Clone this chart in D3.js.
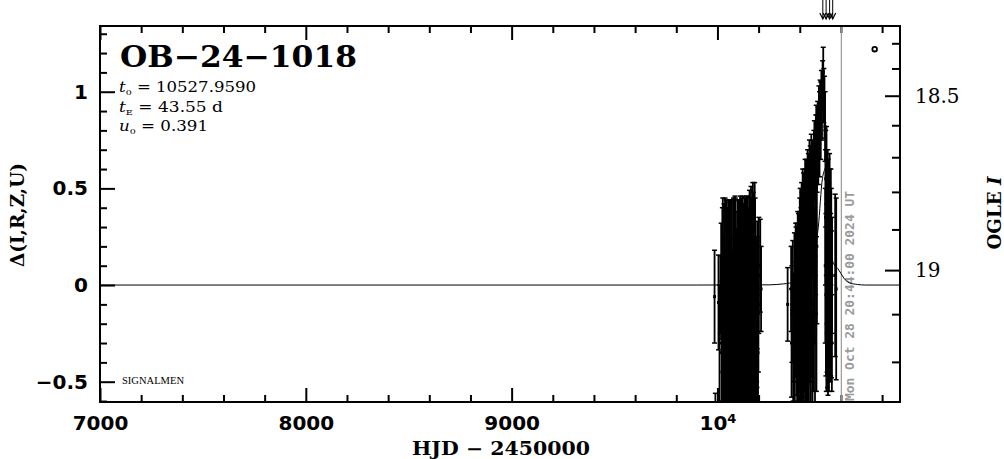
<!DOCTYPE html>
<html><head><meta charset="utf-8">
<script src="https://cdn.jsdelivr.net/npm/d3@7"></script>
<style>body{margin:0;background:#fff}svg{display:block}</style>
</head><body>
<svg id="c" width="1004" height="459"></svg>
<script>
// ---------------- data ----------------
const eventName = "OB\u221224\u22121018";
const paramNames = [["t","0"],["t","E"],["u","0"]];
const paramValues = ["10527.9590", "43.55 d", "0.391"];
const xMajorTicks = [7000, 8000, 9000, 10000];
const xMinorTicks = [7200,7400,7600,7800,8200,8400,8600,8800,9200,9400,9600,9800,10200,10400,10600,10800];
const yMajorTicks = [-0.5, 0, 0.5, 1];
const yMinorTicks = [-0.6,-0.4,-0.3,-0.2,-0.1,0.1,0.2,0.3,0.4,0.6,0.7,0.8,0.9,1.1,1.2,1.3];
const magMajorTicks = [18.5, 19];
const magMinorTicks = [18.3,18.4,18.6,18.7,18.8,18.9,19.1,19.2];
// season 1 : [HJD-2450000, delta, error]
const season1 = [
[9986,-0.06,0.24],[9990,-0.78,0.22],[10005,-0.09,0.245],[10010,-0.30,0.30],[10014,-0.05,0.20],
[10018,0.02,0.30],[10022,-0.45,0.30],[10026,0.12,0.33],[10030,-0.20,0.30],[10034,-0.05,0.30],
[10037,0.10,0.35],[10040,-0.15,0.32],[10043,-0.40,0.35],[10046,0.05,0.38],[10049,-0.30,0.30],
[10052,-0.60,0.30],[10055,0.08,0.36],[10058,-0.20,0.35],[10061,-0.45,0.32],[10064,0.12,0.32],
[10067,-0.10,0.34],[10070,-0.55,0.35],[10073,-0.30,0.35],[10076,0.05,0.38],[10079,-0.25,0.33],
[10082,-0.62,0.35],[10085,0.10,0.36],[10088,-0.35,0.30],[10091,-0.05,0.34],[10094,-0.50,0.33],
[10097,0.14,0.30],[10100,-0.22,0.35],[10103,-0.70,0.35],[10106,0.05,0.38],[10109,-0.40,0.30],
[10112,-0.12,0.36],[10115,-0.58,0.32],[10118,0.12,0.33],[10121,-0.28,0.34],[10124,-0.48,0.30],
[10127,0.02,0.40],[10130,-0.18,0.35],[10133,-0.65,0.33],[10136,0.15,0.30],[10139,-0.35,0.35],
[10142,-0.08,0.38],[10145,-0.52,0.35],[10148,0.10,0.36],[10151,-0.25,0.32],[10154,-0.60,0.35],
[10157,0.05,0.40],[10160,-0.40,0.35],[10163,0.18,0.33],[10166,-0.15,0.36],[10169,-0.55,0.35],
[10172,0.13,0.40],[10175,-0.30,0.33],[10178,-0.70,0.35],[10181,0.08,0.45],[10184,-0.45,0.30],
[10187,-0.10,0.35],[10190,-0.62,0.35],[10193,0.00,0.33],[10197,-0.35,0.30],[10201,0.05,0.30],
[10208,0.10,0.24],[10212,-0.02,0.22],
[10020,-0.35,0.30],[10024,0.05,0.35],[10028,-0.55,0.30],[10032,0.08,0.34],[10035,-0.38,0.32],
[10039,-0.65,0.30],[10042,0.10,0.34],[10045,-0.25,0.35],[10048,-0.50,0.30],[10051,0.02,0.38],
[10054,-0.35,0.32],[10057,-0.70,0.32],[10060,0.06,0.38],[10063,-0.30,0.35],[10066,-0.58,0.30],
[10069,0.10,0.34],[10072,-0.18,0.36],[10075,-0.45,0.33],[10078,0.08,0.37],[10081,-0.30,0.33],
[10084,-0.58,0.32],[10087,0.12,0.33],[10090,-0.20,0.36],[10093,-0.68,0.33],[10096,-0.02,0.40],
[10099,-0.42,0.32],[10102,0.10,0.34],[10105,-0.25,0.35],[10108,-0.62,0.35],[10111,0.08,0.38],
[10114,-0.32,0.34],[10117,-0.05,0.40],[10120,-0.55,0.32],[10123,0.10,0.36],[10126,-0.38,0.34],
[10129,-0.68,0.34],[10132,0.05,0.40],[10135,-0.20,0.36],[10138,-0.50,0.35],[10141,0.12,0.34],
[10144,-0.30,0.35],[10147,-0.62,0.32],[10150,0.00,0.40],[10153,-0.45,0.32],[10156,0.15,0.34],
[10159,-0.20,0.38],[10162,-0.58,0.34],[10165,0.05,0.40],[10168,-0.35,0.34],[10171,-0.65,0.34],
[10174,0.10,0.38],[10177,-0.20,0.36],[10180,-0.55,0.35],[10183,0.05,0.40],[10186,-0.35,0.35],
[10189,-0.70,0.35],[10192,-0.15,0.38],[10195,-0.50,0.35],[10199,-0.10,0.35]
];
// season 2 : [HJD-2450000, delta, error]
const season2 = [
[10341,-0.10,0.19],[10358,-0.02,0.22],[10362,-0.15,0.25],[10366,0.05,0.18],[10370,-0.22,0.28],
[10374,0.02,0.25],[10378,-0.18,0.30],[10382,0.05,0.25],[10385,-0.32,0.25],[10388,0.02,0.30],
[10391,-0.45,0.22],[10394,0.12,0.25],[10397,-0.20,0.35],[10400,0.15,0.30],[10403,-0.45,0.30],
[10406,0.05,0.35],[10409,0.25,0.28],[10412,-0.35,0.33],[10415,0.10,0.35],[10418,0.30,0.28],
[10421,-0.20,0.35],[10424,0.35,0.25],[10427,-0.50,0.30],[10430,0.15,0.35],[10433,0.40,0.25],
[10436,-0.30,0.35],[10439,0.05,0.38],[10442,0.45,0.23],[10445,-0.15,0.35],[10448,0.30,0.30],
[10451,0.50,0.22],[10454,-0.40,0.32],[10457,0.15,0.35],[10460,0.55,0.20],[10463,0.35,0.30],
[10466,-0.20,0.35],[10469,0.62,0.18],[10472,0.05,0.35],[10475,0.45,0.30],[10478,0.70,0.18],
[10481,-0.15,0.40],[10484,0.68,0.20],[10487,0.80,0.15],[10490,0.72,0.20],[10493,0.88,0.15],
[10496,0.78,0.22],[10499,0.92,0.14],[10502,0.85,0.20],[10505,0.98,0.13],[10508,0.90,0.15],
[10511,1.03,0.13],[10514,1.10,0.13],[10517,0.98,0.14],[10520,0.92,0.16],[10523,0.82,0.18],
[10525,0.35,0.35],[10527,-0.05,0.42],[10530,0.62,0.20],[10532,0.20,0.40],[10535,-0.20,0.33],
[10538,0.30,0.35],[10541,0.00,0.40],[10544,-0.15,0.35],[10547,0.22,0.38],[10550,-0.05,0.42],
[10553,0.10,0.40],[10556,-0.30,0.25],[10572,0.05,0.42],[10577,-0.02,0.47],
[10360,-0.30,0.28],[10368,-0.35,0.25],[10376,-0.40,0.28],[10380,0.10,0.22],[10384,-0.10,0.32],
[10387,-0.50,0.30],[10390,0.10,0.28],[10393,-0.25,0.35],[10396,-0.55,0.30],[10399,0.00,0.38],
[10402,0.25,0.25],[10405,-0.30,0.35],[10408,-0.55,0.30],[10411,0.10,0.38],[10414,0.35,0.25],
[10417,-0.10,0.38],[10420,-0.45,0.32],[10423,0.15,0.38],[10426,0.40,0.25],[10429,-0.20,0.38],
[10432,-0.45,0.32],[10435,0.25,0.35],[10438,0.48,0.22],[10441,-0.25,0.36],[10444,0.10,0.38],
[10447,0.55,0.20],[10450,-0.50,0.30],[10453,0.20,0.36],[10456,0.58,0.20],[10459,-0.10,0.38],
[10462,-0.45,0.32],[10465,0.40,0.30],[10468,0.10,0.38],[10471,0.65,0.20],[10474,-0.30,0.35],
[10477,0.30,0.35],[10480,0.75,0.18],[10483,0.20,0.40],
[10524,0.10,0.40],[10526,0.55,0.25],[10529,-0.25,0.30],[10531,0.35,0.30],[10533,-0.05,0.40],
[10536,0.45,0.25],[10537,-0.35,0.22],[10539,0.15,0.38],[10542,-0.25,0.30],[10545,0.40,0.28],
[10546,0.05,0.42],[10548,-0.20,0.30],[10551,0.30,0.30],[10554,-0.10,0.38],[10557,0.05,0.30]
];
// model curve: [HJD-2450000, delta]
const model = [
[7000,0],[9900,0],[10250,0.001],[10320,0.006],[10350,0.01],[10380,0.02],[10420,0.05],
[10460,0.13],[10490,0.3],[10510,0.55],[10525,0.6],[10537,0.35],[10550,0.17],[10565,0.11],
[10585,0.085],[10600,0.06],[10615,0.035],[10640,0.012],[10680,0.003],[10720,0],[10887,0]
];
const arrowTimes = [10512, 10528, 10545, 10560];
const nowHJD = 10602;
const nowLabel = "Mon Oct 28 20:44:00 2024 UT";
const extraPoint = [10764, 1.22];
const footerLabel = "SIGNALMEN";
const xLabel = "HJD \u2212 2450000";
const yLabel = "\u0394(I,R,Z,U)";
const y2Label = ["OGLE ", "I"];

// ---------------- layout ----------------
const L = 100, R = 900, T = 26, B = 402;
const svg = d3.select("#c");
const x = d3.scaleLinear().domain([7000, 10887]).range([L, R]);
const y = d3.scaleLinear().domain([-0.605, 1.34]).range([B, T]);
const magToDelta = m => 2.8134 - 2.7361 * Math.exp(0.8 * (m - 19));

svg.append("defs").append("clipPath").attr("id","pc")
  .append("rect").attr("x",L).attr("y",T).attr("width",R-L).attr("height",B-T);

function styleAxis(g, size, family, weight){
  g.select(".domain").remove();
  g.selectAll(".tick line").attr("stroke","#000").attr("stroke-width",2);
  g.selectAll(".tick text").attr("font-size",size).attr("font-family",family)
    .attr("font-weight",weight).attr("fill","#000");
}

// bottom axis
const gB = svg.append("g").attr("transform",`translate(0,${B})`)
  .call(d3.axisBottom(x).tickValues(xMajorTicks).tickSizeInner(-14).tickSizeOuter(0).tickPadding(14)
    .tickFormat(d => d));
styleAxis(gB, 20, "DejaVu Sans", "bold");
gB.selectAll(".tick text").filter(d => d === 10000).text(null)
  .each(function(){
    const t = d3.select(this);
    t.append("tspan").text("10");
    t.append("tspan").attr("font-size",13).attr("dy","-0.55em").text("4");
  });
svg.append("g").attr("transform",`translate(0,${B})`)
  .call(d3.axisBottom(x).tickValues(xMinorTicks).tickSizeInner(-7).tickSizeOuter(0).tickFormat(""))
  .call(g => styleAxis(g, 1, "sans-serif", "normal"));
// top axis
svg.append("g").attr("transform",`translate(0,${T})`)
  .call(d3.axisTop(x).tickValues(xMajorTicks).tickSizeInner(-14).tickSizeOuter(0).tickFormat(""))
  .call(g => styleAxis(g, 1, "sans-serif", "normal"));
svg.append("g").attr("transform",`translate(0,${T})`)
  .call(d3.axisTop(x).tickValues(xMinorTicks).tickSizeInner(-7).tickSizeOuter(0).tickFormat(""))
  .call(g => styleAxis(g, 1, "sans-serif", "normal"));
// left axis
const gL = svg.append("g").attr("transform",`translate(${L},0)`)
  .call(d3.axisLeft(y).tickValues(yMajorTicks).tickSizeInner(-15).tickSizeOuter(0).tickPadding(12)
    .tickFormat(d => d < 0 ? "\u2212" + Math.abs(d) : String(d)));
styleAxis(gL, 20, "DejaVu Sans", "bold");
svg.append("g").attr("transform",`translate(${L},0)`)
  .call(d3.axisLeft(y).tickValues(yMinorTicks).tickSizeInner(-7).tickSizeOuter(0).tickFormat(""))
  .call(g => styleAxis(g, 1, "sans-serif", "normal"));
// right axis (OGLE I)
const gR = svg.append("g").attr("transform",`translate(${R},0)`)
  .call(d3.axisRight(y).tickValues(magMajorTicks.map(magToDelta)).tickSizeInner(-15).tickSizeOuter(0)
    .tickPadding(15).tickFormat((d,i) => String(magMajorTicks[i])));
styleAxis(gR, 20, "DejaVu Serif", "normal");
svg.append("g").attr("transform",`translate(${R},0)`)
  .call(d3.axisRight(y).tickValues(magMinorTicks.map(magToDelta)).tickSizeInner(-8).tickSizeOuter(0).tickFormat(""))
  .call(g => styleAxis(g, 1, "sans-serif", "normal"));

// now line + label
svg.append("line").attr("x1",x(nowHJD)).attr("x2",x(nowHJD)).attr("y1",T).attr("y2",B)
  .attr("stroke","#9a9a9a").attr("stroke-width",1.2);
svg.append("text").attr("transform",`translate(${x(nowHJD)+13},${B-1}) rotate(-90)`)
  .attr("font-family","DejaVu Sans Mono").attr("font-weight","bold").attr("font-size",12.5)
  .attr("fill","#9a9a9a").attr("textLength",210).attr("lengthAdjust","spacingAndGlyphs").text(nowLabel);

// model
const plot = svg.append("g").attr("clip-path","url(#pc)");
plot.append("path").datum(model)
  .attr("d", d3.line().x(d => x(d[0])).y(d => y(d[1])).curve(d3.curveMonotoneX))
  .attr("fill","none").attr("stroke","#000").attr("stroke-width",1);

// data points with error bars
const obs = season1.concat(season2);
const pts = plot.append("g").selectAll("g").data(obs).join("g");
pts.append("line").attr("x1",d=>x(d[0])).attr("x2",d=>x(d[0]))
  .attr("y1",d=>y(d[1]-d[2])).attr("y2",d=>y(d[1]+d[2])).attr("stroke","#000").attr("stroke-width",1.8);
pts.append("line").attr("x1",d=>x(d[0])-2.5).attr("x2",d=>x(d[0])+2.5)
  .attr("y1",d=>y(d[1]+d[2])).attr("y2",d=>y(d[1]+d[2])).attr("stroke","#000").attr("stroke-width",1.5);
pts.append("line").attr("x1",d=>x(d[0])-2.5).attr("x2",d=>x(d[0])+2.5)
  .attr("y1",d=>y(d[1]-d[2])).attr("y2",d=>y(d[1]-d[2])).attr("stroke","#000").attr("stroke-width",1.5);
pts.append("rect").attr("x",d=>x(d[0])-1.5).attr("y",d=>y(d[1])-1.5).attr("width",3).attr("height",3).attr("fill","#000");

// extra open circle
svg.append("circle").attr("cx",x(extraPoint[0])).attr("cy",y(extraPoint[1])).attr("r",2.3)
  .attr("fill","none").attr("stroke","#000").attr("stroke-width",1.8);

// arrows above the frame
arrowTimes.forEach(t => {
  const ax = x(t);
  svg.append("line").attr("x1",ax).attr("x2",ax).attr("y1",0).attr("y2",19).attr("stroke","#000").attr("stroke-width",1);
  svg.append("path").attr("d",`M${ax-3},13L${ax},19L${ax+3},13`).attr("fill","none").attr("stroke","#000").attr("stroke-width",1.2);
});

// frame
svg.append("rect").attr("x",L).attr("y",T).attr("width",R-L).attr("height",B-T)
  .attr("fill","none").attr("stroke","#000").attr("stroke-width",2);

// title & parameters
svg.append("text").attr("x",120).attr("y",67).attr("font-family","DejaVu Serif").attr("font-weight","bold")
  .attr("font-size",30).attr("textLength",237).attr("lengthAdjust","spacingAndGlyphs").text(eventName);
const pLen = [137, 104, 89];
const pBase = [92, 112, 131];
paramNames.forEach((p, i) => {
  const t = svg.append("text").attr("x",119).attr("y",pBase[i]).attr("font-family","DejaVu Serif")
    .attr("font-size",14).attr("textLength",pLen[i]).attr("lengthAdjust","spacingAndGlyphs");
  t.append("tspan").attr("font-style","italic").text(p[0]);
  t.append("tspan").attr("font-size",8).attr("dy",3).text(p[1]);
  t.append("tspan").attr("dy",-3).text(" = " + paramValues[i]);
});
svg.append("text").attr("x",122).attr("y",384).attr("font-family","Liberation Serif").attr("font-size",11)
  .attr("textLength",62).attr("lengthAdjust","spacingAndGlyphs").text(footerLabel);

// axis titles
svg.append("text").attr("x",501).attr("y",455).attr("text-anchor","middle").attr("font-family","DejaVu Serif")
  .attr("font-weight","bold").attr("font-size",18).attr("textLength",178).attr("lengthAdjust","spacingAndGlyphs").text(xLabel);
svg.append("text").attr("transform","translate(24,215) rotate(-90)").attr("text-anchor","middle")
  .attr("font-family","DejaVu Serif").attr("font-weight","bold").attr("font-size",18)
  .attr("textLength",104).attr("lengthAdjust","spacingAndGlyphs").text(yLabel);
const yl2 = svg.append("text").attr("transform","translate(1001,213) rotate(-90)").attr("text-anchor","middle")
  .attr("font-family","DejaVu Serif").attr("font-weight","bold").attr("font-size",19)
  .attr("textLength",73).attr("lengthAdjust","spacingAndGlyphs");
yl2.append("tspan").text(y2Label[0]);
yl2.append("tspan").attr("font-style","italic").text(y2Label[1]);
</script>
</body></html>
